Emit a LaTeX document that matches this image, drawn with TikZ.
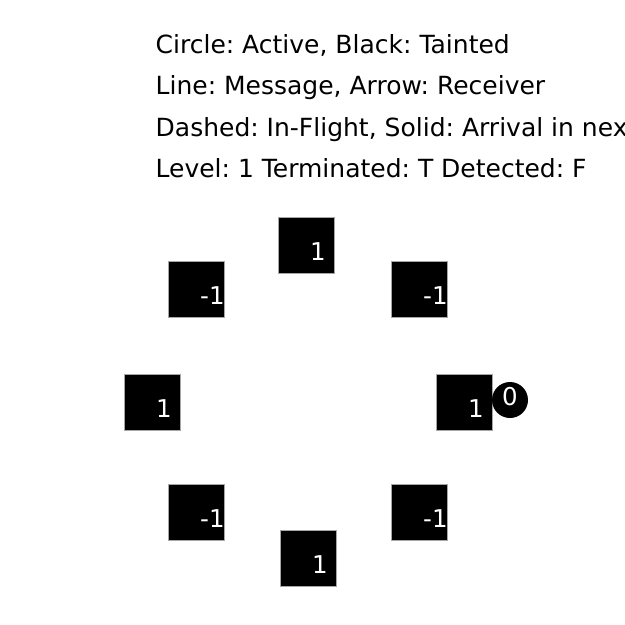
\documentclass[tikz,border=0pt]{standalone}
\usepackage{fontspec}
\setmainfont{DejaVu Sans}
\frenchspacing
\begin{document}
\begin{tikzpicture}[x=1pt,y=-1pt,
  proc/.style={rectangle, draw=gray!70, line width=0.6pt, fill=black, minimum size=56pt, inner sep=0pt, outer sep=0pt},
  val/.style={text=white, anchor=base west, inner sep=0pt, font=\fontsize{24.5}{24.5}\selectfont},
  info/.style={anchor=base west, inner sep=0pt, font=\fontsize{25}{30}\selectfont},
  tok/.style={circle, fill=black, minimum size=36pt, inner sep=0pt}]
\useasboundingbox (0,0) rectangle (625,625);
\node[info] (t1) at (155.5,53) {Circle: Active, Black: Tainted};
\node[info] (t2) at (155.5,94.5) {Line: Message, Arrow: Receiver};
\node[info] (t3) at (155.5,136) {Dashed: In-Flight, Solid: Arrival in nex};
\node[info] (t4) at (155.5,177) {Level: 1 Terminated: T Detected: F};
\node[proc] (ptop) at (306,245) {};
\node[proc] (pul) at (196,289) {};
\node[proc] (pur) at (419,289) {};
\node[proc] (pl) at (152,402) {};
\node[proc] (pr) at (464,402) {};
\node[proc] (pll) at (196,512) {};
\node[proc] (plr) at (419,512) {};
\node[proc] (pbot) at (308,558) {};
\node[val] (vtop) at ([shift={(4,15)}]ptop.center) {1};
\node[val] (vul) at ([shift={(4,15)}]pul.center) {-1};
\node[val] (vur) at ([shift={(4,15)}]pur.center) {-1};
\node[val] (vl) at ([shift={(4,15)}]pl.center) {1};
\node[val] (vr) at ([shift={(4,15)}]pr.center) {1};
\node[val] (vll) at ([shift={(4,15)}]pll.center) {-1};
\node[val] (vlr) at ([shift={(4,15)}]plr.center) {-1};
\node[val] (vbot) at ([shift={(4,15)}]pbot.center) {1};
\node[tok] (tk) at (510,400) {};
\node[text=white, anchor=base, inner sep=0pt, font=\fontsize{24.5}{24.5}\selectfont] (tkv) at (510,405) {0};
\end{tikzpicture}
\end{document}
